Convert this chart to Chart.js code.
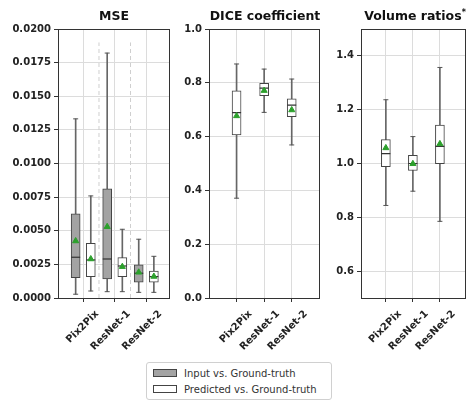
<!DOCTYPE html>
<html>
<head>
<meta charset="utf-8">
<script src="https://cdn.jsdelivr.net/npm/chart.js@4.4.0/dist/chart.umd.min.js"></script>
<style>
  body { margin: 0; background: #fff; font-family: 'DejaVu Sans', sans-serif; }
  #wrap { position: relative; width: 471px; height: 403px; overflow: hidden; }
  canvas { position: absolute; top: 0; }
  .title { position: absolute; top: 8px; font-weight: bold; font-size: 12.5px; color: #111;
           transform: translateX(-50%); white-space: nowrap; }
  .title sup { font-size: 8px; }
  #legend { position: absolute; left: 146px; top: 362px; width: 184px; height: 36px;
            border: 1px solid #d0d0d0; border-radius: 3px; font-size: 10px; color: #333; }
  .row { position: absolute; left: 6px; height: 14px; display: flex; align-items: center; }
  .patch { width: 22px; height: 6px; border: 1px solid #444; margin-right: 7px; }
</style>
</head>
<body>
<div id="wrap">
  <canvas id="mse" width="175" height="360" style="left:0"></canvas>
  <canvas id="dice" width="150" height="360" style="left:175px"></canvas>
  <canvas id="vol" width="146" height="360" style="left:325px"></canvas>
  <div class="title" style="left:114px">MSE</div>
  <div class="title" style="left:265px">DICE coefficient</div>
  <div class="title" style="left:415px">Volume ratios<sup>*</sup></div>
  <div id="legend">
    <div class="row" style="top:3px"><div class="patch" style="background:#a3a3a3"></div>Input vs. Ground-truth</div>
    <div class="row" style="top:19px"><div class="patch" style="background:#fff"></div>Predicted vs. Ground-truth</div>
  </div>
</div>
<script>
const categories = ['Pix2Pix', 'ResNet-1', 'ResNet-2'];
const positions = [1, 2, 3];

// boxes: [whisker low, q1, median, q3, whisker high]
const mseInputBox = [
  [0.00028, 0.00151, 0.00303, 0.00625, 0.01332],
  [0.00047, 0.00141, 0.00290, 0.00811, 0.01821],
  [0.00042, 0.00117, 0.00184, 0.00246, 0.00437]
];
const mseInputMean = [0.00424, 0.00530, 0.00191];
const msePredBox = [
  [0.00052, 0.00159, 0.00283, 0.00407, 0.00759],
  [0.00047, 0.00159, 0.00238, 0.00300, 0.00511],
  [0.00042, 0.00117, 0.00159, 0.00201, 0.00310]
];
const msePredMean = [0.00290, 0.00233, 0.00160];

const diceBox = [
  [0.371, 0.606, 0.689, 0.770, 0.870],
  [0.690, 0.752, 0.780, 0.798, 0.851],
  [0.569, 0.674, 0.717, 0.740, 0.814]
];
const diceMean = [0.677, 0.771, 0.699];

const volBox = [
  [0.844, 0.988, 1.037, 1.089, 1.237],
  [0.897, 0.974, 1.000, 1.030, 1.100],
  [0.785, 0.999, 1.064, 1.143, 1.357]
];
const volMean = [1.058, 0.999, 1.073];

const mseTicks = [0, 0.0025, 0.005, 0.0075, 0.01, 0.0125, 0.015, 0.0175, 0.02];
const diceTicks = [0, 0.2, 0.4, 0.6, 0.8, 1.0];
const volTicks = [0.6, 0.8, 1.0, 1.2, 1.4];
const mseSeparators = [1.5, 2.5];

Chart.defaults.font.family = "'DejaVu Sans', sans-serif";

const frame = {
  id: 'frame',
  afterDraw(chart) {
    const a = chart.chartArea, c = chart.ctx;
    c.save();
    c.strokeStyle = '#333';
    c.lineWidth = 1;
    c.strokeRect(Math.round(a.left) + 0.5, Math.round(a.top) + 0.5,
                 Math.round(a.right - a.left), Math.round(a.bottom - a.top));
    c.restore();
  }
};

function boxSets(xs, boxes, means, fill) {
  return [
    { type: 'bar', data: xs.map((x, i) => ({ x, y: [boxes[i][0], boxes[i][4]] })),
      backgroundColor: '#666', borderWidth: 0, barThickness: 1, grouped: false, order: 5 },
    { type: 'scatter', data: xs.flatMap((x, i) => [{ x, y: boxes[i][0] }, { x, y: boxes[i][4] }]),
      pointStyle: 'line', pointRadius: 2.5, borderColor: '#555', borderWidth: 1, order: 4 },
    { type: 'bar', data: xs.map((x, i) => ({ x, y: [boxes[i][1], boxes[i][3]] })),
      backgroundColor: fill, borderColor: '#444', borderWidth: 1, borderSkipped: false,
      barThickness: 9, grouped: false, order: 3 },
    { type: 'scatter', data: xs.map((x, i) => ({ x, y: boxes[i][2] })),
      pointStyle: 'line', pointRadius: 4.5, borderColor: '#333', borderWidth: 1.2, order: 2 },
    { type: 'scatter', data: xs.map((x, i) => ({ x, y: means[i] })),
      pointStyle: 'triangle', pointRadius: 3.5, backgroundColor: '#2ca02c', borderColor: '#2ca02c', order: 1 }
  ];
}

function panel(id, datasets, o) {
  return new Chart(document.getElementById(id), {
    type: 'bar',
    data: { datasets },
    options: {
      responsive: false,
      animation: false,
      layout: { padding: { top: 29, right: o.padRight, left: 0, bottom: 0 } },
      plugins: { legend: { display: false }, tooltip: { enabled: false } },
      scales: {
        x: {
          type: 'linear', min: o.xMin, max: o.xMax, offset: false,
          afterBuildTicks: s => { s.ticks = positions.map(v => ({ value: v })); },
          afterFit: s => { s.height = 62; s.paddingLeft = 0; s.paddingRight = 0; },
          ticks: {
            callback: v => categories[Math.round(v) - 1],
            minRotation: 45, maxRotation: 45, labelOffset: 14, padding: 6,
            color: '#222', font: { size: 10, weight: 'bold' }
          },
          grid: { offset: false, color: '#dcdcdc', tickColor: '#333', tickLength: 4 },
          border: { display: false }
        },
        y: {
          min: o.yMin, max: o.yMax, beginAtZero: false,
          afterBuildTicks: s => { s.ticks = o.yTicks.map(v => ({ value: v })); },
          afterFit: s => { s.width = o.yWidth; s.paddingTop = 0; s.paddingBottom = 0; },
          ticks: {
            callback: v => v.toFixed(o.dec), padding: 3,
            color: '#222', font: { size: 10, weight: 'bold' }
          },
          grid: { color: '#dcdcdc', tickColor: '#333', tickLength: 4 },
          border: { display: false }
        }
      }
    },
    plugins: [frame]
  });
}

const offset = 0.24;
const mseSets = mseSeparators.map(x => ({
  type: 'line', data: [{ x, y: 0 }, { x, y: 0.019 }], borderColor: '#cfcfcf',
  borderWidth: 1, borderDash: [4, 3], pointRadius: 0, order: 9
})).concat(
  boxSets(positions.map(p => p - offset), mseInputBox, mseInputMean, '#a3a3a3'),
  boxSets(positions.map(p => p + offset), msePredBox, msePredMean, '#ffffff')
);

panel('mse', mseSets, { xMin: 0.2, xMax: 3.72, yMin: 0, yMax: 0.02, yTicks: mseTicks, dec: 4, yWidth: 58, padRight: 6 });
panel('dice', boxSets(positions, diceBox, diceMean, '#ffffff'),
  { xMin: 0, xMax: 4, yMin: 0, yMax: 1, yTicks: diceTicks, dec: 1, yWidth: 34, padRight: 4 });
panel('vol', boxSets(positions, volBox, volMean, '#ffffff'),
  { xMin: 0.08, xMax: 3.94, yMin: 0.5, yMax: 1.5, yTicks: volTicks, dec: 1, yWidth: 36, padRight: 2 });
</script>
</body>
</html>
